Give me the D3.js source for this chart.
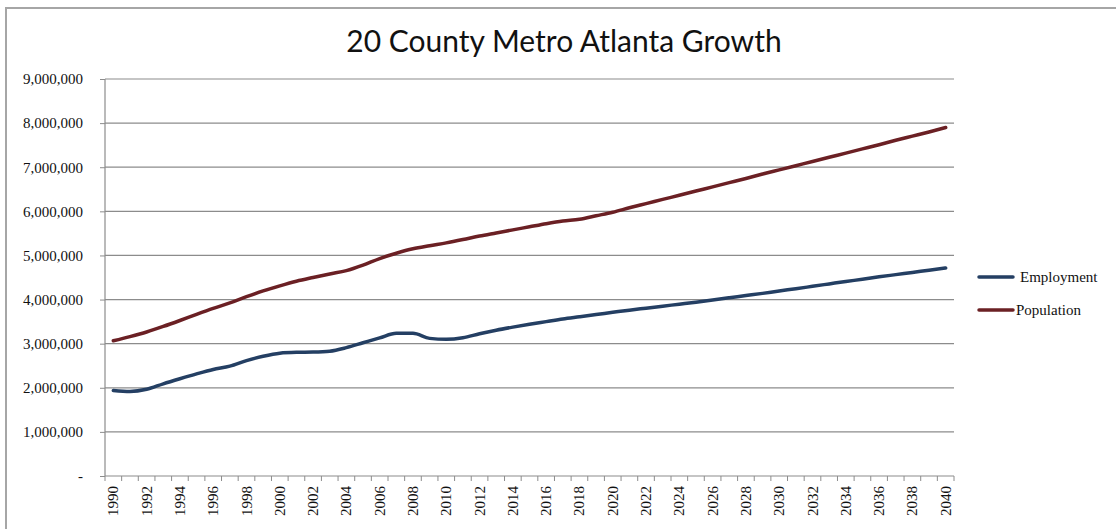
<!DOCTYPE html>
<html>
<head>
<meta charset="utf-8">
<script src="https://cdn.jsdelivr.net/npm/d3@7"></script>
<style>
	body { margin: 0; background: #fff; }
	svg text { font-family: "Liberation Serif", "Times New Roman", serif; }
</style>
</head>
<body>
<div id="chart"></div>
<script>

// years 1990 .. 2040
var years = [
	1990, 1991, 1992, 1993, 1994, 1995, 1996, 1997, 1998, 1999,
	2000, 2001, 2002, 2003, 2004, 2005, 2006, 2007, 2008, 2009,
	2010, 2011, 2012, 2013, 2014, 2015, 2016, 2017, 2018, 2019,
	2020, 2021, 2022, 2023, 2024, 2025, 2026, 2027, 2028, 2029,
	2030, 2031, 2032, 2033, 2034, 2035, 2036, 2037, 2038, 2039,
	2040
];

var employment = [
	1940000, 1915000, 1965000, 2090000, 2205000, 2315000, 2415000, 2490000, 2615000, 2715000,
	2785000, 2805000, 2810000, 2830000, 2910000, 3020000, 3130000, 3235000, 3235000, 3120000,
	3100000, 3135000, 3225000, 3305000, 3375000, 3440000, 3500000, 3560000, 3610000, 3660000,
	3710000, 3760000, 3805000, 3850000, 3895000, 3940000, 3990000, 4040000, 4090000, 4140000,
	4195000, 4245000, 4300000, 4355000, 4410000, 4460000, 4515000, 4565000, 4615000, 4665000,
	4715000
];

var population = [
	3065000, 3160000, 3265000, 3390000, 3525000, 3665000, 3800000, 3925000, 4065000, 4195000,
	4310000, 4415000, 4500000, 4580000, 4655000, 4780000, 4930000, 5050000, 5150000, 5220000,
	5285000, 5360000, 5440000, 5510000, 5580000, 5650000, 5720000, 5780000, 5820000, 5900000,
	5980000, 6080000, 6175000, 6270000, 6365000, 6460000, 6555000, 6650000, 6745000, 6845000,
	6940000, 7035000, 7130000, 7225000, 7320000, 7415000, 7510000, 7610000, 7705000, 7800000,
	7900000
];

var yTicks = [0, 1000000, 2000000, 3000000, 4000000, 5000000, 6000000, 7000000, 8000000, 9000000];

var series = [
	{ name: 'Employment', values: employment, colour: '#243f63' },
	{ name: 'Population', values: population, colour: '#6b2024' }
];

var width = 1116, height = 529;
var plotLeft = 105, plotRight = 954, plotTop = 79, plotBottom = 476;

var svg = d3.select('#chart')
	.append('svg')
	.attr('width', width)
	.attr('height', height);

// outer frame of the chart
svg.append('rect')
	.attr('x', 6)
	.attr('y', 8)
	.attr('width', width + 10)
	.attr('height', height + 10)
	.style('fill', 'none')
	.style('stroke', '#a6a6a6')
	.style('stroke-width', 2);

svg.append('text')
	.attr('x', 564)
	.attr('y', 52)
	.attr('text-anchor', 'middle')
	.style('font-family', 'Lato, "Noto Sans", sans-serif')
	.style('font-size', '30px')
	.style('fill', '#111')
	.text('20 County Metro Atlanta Growth');

var x = d3.scaleBand()
	.domain(years)
	.range([plotLeft, plotRight]);

var y = d3.scaleLinear()
	.domain([0, 9000000])
	.range([plotBottom, plotTop]);

// gridlines
svg.append('g')
	.selectAll('line')
	.data(yTicks.slice(1))
	.enter()
	.append('line')
	.attr('x1', plotLeft)
	.attr('x2', plotRight)
	.attr('y1', function(d) { return y(d); })
	.attr('y2', function(d) { return y(d); })
	.attr('stroke', '#8c8c8c')
	.attr('stroke-width', 1.2);

var fmt = d3.format(',');

var yAxis = svg.append('g')
	.attr('transform', 'translate(' + plotLeft + ',0)')
	.call(d3.axisLeft(y)
		.tickValues(yTicks)
		.tickSize(5)
		.tickPadding(17)
		.tickFormat(function(d) { return d === 0 ? '-' : fmt(d); }));

yAxis.selectAll('text')
	.style('font-size', '15px')
	.style('fill', '#111');

yAxis.select('.domain')
	.attr('stroke', '#8c8c8c')
	.attr('stroke-width', 1.2)
	.attr('d', 'M0,' + plotTop + 'V' + plotBottom);
yAxis.selectAll('.tick line').attr('stroke', '#8c8c8c');

// category axis, ticks sit between the years
var xAxis = svg.append('g')
	.attr('transform', 'translate(0,' + plotBottom + ')');

xAxis.append('line')
	.attr('x1', plotLeft)
	.attr('x2', plotRight)
	.attr('stroke', '#8c8c8c')
	.attr('stroke-width', 1.2);

xAxis.selectAll('line.tick')
	.data(years.concat([years[years.length - 1] + 1]))
	.enter()
	.append('line')
	.attr('class', 'tick')
	.attr('x1', function(d, i) { return i < years.length ? x(d) : plotRight; })
	.attr('x2', function(d, i) { return i < years.length ? x(d) : plotRight; })
	.attr('y1', 0)
	.attr('y2', 5)
	.attr('stroke', '#8c8c8c');

xAxis.selectAll('text')
	.data(years.filter(function(d) { return d % 2 === 0; }))
	.enter()
	.append('text')
	.attr('transform', function(d) {
		return 'translate(' + (x(d) + x.bandwidth() / 2 + 5) + ',10) rotate(-90)';
	})
	.attr('text-anchor', 'end')
	.style('font-size', '15px')
	.style('fill', '#111')
	.text(function(d) { return d; });

var line = d3.line()
	.x(function(d, i) { return x(years[i]) + x.bandwidth() / 2; })
	.y(function(d) { return y(d); })
	.curve(d3.curveMonotoneX);

svg.append('g')
	.selectAll('path')
	.data(series)
	.enter()
	.append('path')
	.attr('d', function(s) { return line(s.values); })
	.style('fill', 'none')
	.style('stroke', function(s) { return s.colour; })
	.style('stroke-width', 3.5)
	.style('stroke-linecap', 'round');

// legend
var legend = svg.append('g')
	.selectAll('g')
	.data(series)
	.enter()
	.append('g')
	.attr('transform', function(d, i) { return 'translate(979,' + (277 + i * 33) + ')'; });

legend.append('line')
	.attr('x1', 0)
	.attr('x2', 34)
	.style('stroke', function(d) { return d.colour; })
	.style('stroke-width', 3.5)
	.style('stroke-linecap', 'round');

legend.append('text')
	.attr('x', function(d, i) { return i === 0 ? 41 : 37; })
	.attr('y', 5)
	.style('font-size', '15px')
	.style('fill', '#111')
	.text(function(d) { return d.name; });

</script>
</body>
</html>
